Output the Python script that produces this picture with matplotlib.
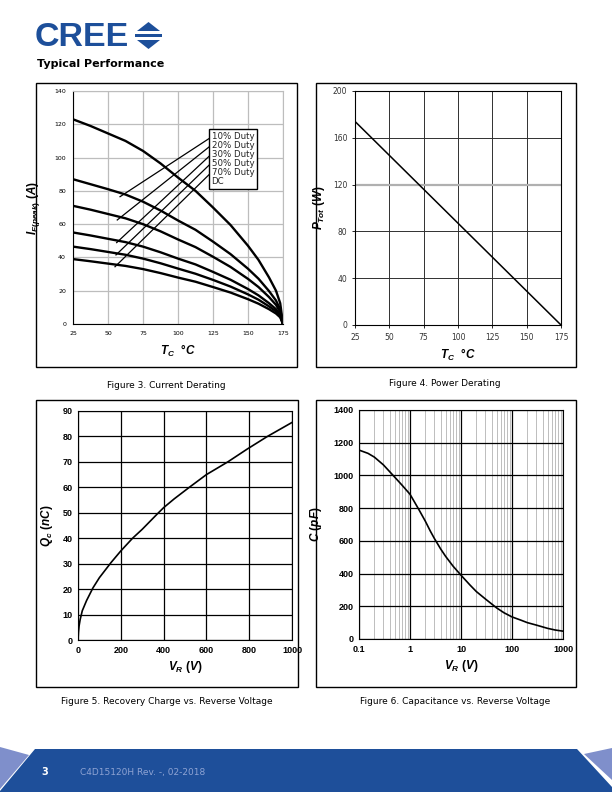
import matplotlib.pyplot as plt
from matplotlib.patches import Rectangle, Polygon

plt.rcParams['font.family'] = ['DejaVu Sans']
plt.rcParams['mathtext.fontset'] = 'custom'
plt.rcParams['mathtext.it'] = 'Liberation Sans:italic:bold'
plt.rcParams['mathtext.rm'] = 'Liberation Sans:bold'
plt.rcParams['mathtext.bf'] = 'Liberation Sans:bold'

W, H = 612, 792

# Figure 3 - current derating
tc = [25, 37.5, 50, 62.5, 75, 87.5, 100, 112.5, 125, 137.5, 150, 157.5, 165, 170, 173, 175]
i_10 = [123, 119, 114.5, 110, 104, 96.5, 88, 80, 70, 59.5, 47, 38.5, 28, 20, 12.5, 0]
i_20 = [87, 84, 81, 77.8, 73.5, 68.2, 62.2, 56.6, 49.5, 42, 33.2, 27.2, 19.8, 14.1, 8.8, 0]
i_30 = [71, 68.7, 66.1, 63.5, 60, 55.7, 50.8, 46.2, 40.4, 34.3, 27.1, 22.2, 16.2, 11.5, 7.2, 0]
i_50 = [55, 53.2, 51.2, 49.2, 46.5, 43.1, 39.3, 35.8, 31.3, 26.6, 21, 17.2, 12.5, 8.9, 5.6, 0]
i_70 = [46.5, 45, 43.3, 41.6, 39.3, 36.5, 33.3, 30.2, 26.5, 22.5, 17.8, 14.6, 10.6, 7.6, 4.7, 0]
i_dc = [39, 37.7, 36.3, 34.9, 33, 30.6, 27.9, 25.4, 22.2, 18.9, 14.9, 12.2, 8.9, 6.3, 4, 0]
duty_labels = ['10% Duty', '20% Duty', '30% Duty', '50% Duty', '70% Duty', 'DC']
leader_start_y = [111.6, 106.6, 101, 95.7, 90]
leader_end_x = [58.6, 56.6, 56.2, 55.7, 55]
leader_end_y = [76.5, 62.5, 48.9, 41.5, 34.4]

# Figure 4 - power derating
tc_p = [25, 175]
p_tot = [174, 0]

# Figure 5 - recovery charge
vr_q = [0, 2, 5, 10, 20, 40, 70, 100, 155, 200, 255, 300, 370, 400, 450, 520, 600, 700, 790, 885, 1000]
qc = [0, 3, 5.5, 8, 11.5, 15.5, 20.5, 24.5, 30.5, 35, 40, 43.5, 49.5, 52, 55.5, 60, 65, 70, 75, 80, 85.5]

# Figure 6 - capacitance
vr_c = [0.1, 0.15, 0.2, 0.3, 0.5, 0.7, 1, 1.5, 2, 2.5, 3, 4, 5, 7, 10, 15, 20, 30, 50, 70, 100,
        150, 200, 300, 500, 700, 1000]
cap = [1155, 1135, 1112, 1065, 990, 940, 885, 790, 720, 660, 615, 550, 505, 445, 390, 330, 290,
       245, 190, 160, 135, 115, 100, 85, 65, 55, 48]

fig = plt.figure(figsize=(W / 100, H / 100), dpi=100)


def px_axes(left, top, right, bottom):
    return fig.add_axes([left / W, 1 - bottom / H, (right - left) / W, (bottom - top) / H])


def frame(left, top, right, bottom):
    fig.patches.append(Rectangle((left / W, 1 - bottom / H), (right - left) / W, (bottom - top) / H,
                                 transform=fig.transFigure, fill=False, edgecolor='black', lw=1.0))


def ftext(x, y, s, **kw):
    fig.text(x / W, 1 - y / H, s, **kw)


# header
blue = '#1d4f9a'
ftext(35, 37, 'CREE', fontsize=24.5, fontweight='bold', color=blue, family='Liberation Sans',
      va='center', ha='left')
for pts in ([(137, 31), (160, 31), (148.5, 22)], [(137, 40), (160, 40), (148.5, 49)],
            [(135, 34), (162, 34), (162, 37), (135, 37)]):
    fig.patches.append(Polygon([(x / W, 1 - y / H) for x, y in pts], closed=True,
                               transform=fig.transFigure, facecolor=blue, edgecolor='none'))
ftext(37, 64, 'Typical Performance', fontsize=8, fontweight='bold', va='center')

# frames
frame(36, 83, 297, 367)
frame(316, 83, 576, 367)
frame(36, 400, 298, 687)
frame(316, 400, 576, 687)

# ---- Figure 3
ax1 = px_axes(73, 91, 283, 324)
for ys in [i_10, i_20, i_30, i_50, i_70, i_dc]:
    ax1.plot(tc, ys, color='black', lw=1.7, solid_joinstyle='round')
for sy, ex, ey in zip(leader_start_y, leader_end_x, leader_end_y):
    ax1.plot([122.5, ex], [sy, ey], color='black', lw=0.9)
ax1.set_xlim(25, 175)
ax1.set_ylim(0, 140)
ax1.set_xticks(range(25, 176, 25))
ax1.set_yticks(range(0, 141, 20))
ax1.grid(True, color='#bdbdbd', lw=0.9)
ax1.tick_params(length=0, labelsize=4.5, pad=5)
for s in ['top', 'right']:
    ax1.spines[s].set_color('#bdbdbd')
ax1.text(0.66, 0.825, '\n'.join(duty_labels), transform=ax1.transAxes, fontsize=6.2,
         va='top', ha='left', linespacing=1.0, color='#222222',
         bbox=dict(boxstyle='square,pad=0.35', facecolor='white', edgecolor='black', lw=1))
ax1.set_xlabel(r'$T_C\ \ \degree C$', fontsize=8.5, labelpad=5)
ax1.set_ylabel(r'$I_{F(peak)}\ (A)$', fontsize=8.5, labelpad=9)

# ---- Figure 4
ax2 = px_axes(355, 91, 561, 325)
ax2.plot(tc_p, p_tot, color='black', lw=1.1)
ax2.set_xlim(25, 175)
ax2.set_ylim(0, 200)
ax2.set_xticks(range(25, 176, 25))
ax2.set_yticks(range(0, 201, 40))
ax2.grid(True, color='#303030', lw=0.7)
ax2.tick_params(length=2, labelsize=5.5, labelcolor='#333333', width=0.6)
ygl = ax2.get_ygridlines()
ygl[3].set_color('#b0b0b0')
ygl[3].set_linewidth(1.6)
ax2.set_xlabel(r'$T_C\ \ \degree C$', fontsize=8.5, labelpad=4)
ax2.set_ylabel(r'$P_{Tot}\ (W)$', fontsize=8.5, labelpad=4)

# ---- Figure 5
ax3 = px_axes(78, 411, 292, 640)
ax3.plot(vr_q, qc, color='black', lw=1.2)
ax3.set_xlim(0, 1000)
ax3.set_ylim(0, 90)
ax3.set_xticks(range(0, 1001, 200))
ax3.set_yticks(range(0, 91, 10))
ax3.grid(True, color='black', lw=0.9)
ax3.tick_params(length=0, labelsize=6.5, pad=4)
for lab in ax3.get_xticklabels() + ax3.get_yticklabels():
    lab.set_fontweight('bold')
    lab.set_family('Liberation Sans')
ax3.set_xlabel(r'$V_R\ (V)$', fontsize=8.5, labelpad=3)
ax3.set_ylabel(r'$Q_c\ (nC)$', fontsize=8.5, labelpad=5)

# ---- Figure 6
ax4 = px_axes(359, 410, 563, 639)
ax4.plot(vr_c, cap, color='black', lw=1.2)
ax4.set_xscale('log')
ax4.set_xlim(0.1, 1000)
ax4.set_ylim(0, 1400)
ax4.set_xticks([0.1, 1, 10, 100, 1000])
ax4.set_xticklabels(['0.1', '1', '10', '100', '1000'])
ax4.set_yticks(range(0, 1401, 200))
ax4.grid(True, which='major', color='black', lw=0.9)
ax4.grid(True, which='minor', axis='x', color='#bdbdbd', lw=0.7)
ax4.tick_params(which='both', length=0, labelsize=6.5, pad=4)
for lab in ax4.get_xticklabels() + ax4.get_yticklabels():
    lab.set_fontweight('bold')
    lab.set_family('Liberation Sans')
ax4.set_xlabel(r'$V_R\ (V)$', fontsize=8.5, labelpad=3)
ax4.set_ylabel(r'$C\ (pF)$', fontsize=8.5, labelpad=7)

for ax in (ax1, ax2, ax3, ax4):
    ax.set_axisbelow(True)

# captions
ftext(166, 385, 'Figure 3. Current Derating', fontsize=6.5, ha='center', va='center')
ftext(445, 384, 'Figure 4. Power Derating', fontsize=6.5, ha='center', va='center')
ftext(167, 701, 'Figure 5. Recovery Charge vs. Reverse Voltage', fontsize=6.5, ha='center', va='center')
ftext(455, 701, 'Figure 6. Capacitance vs. Reverse Voltage', fontsize=6.5, ha='center', va='center')

# footer
light = '#7f8fcb'
for pts, col in (([(35, 749), (577, 749), (612, 787), (612, 792), (0, 792), (0, 791)], '#1e4f9a'),
                 ([(0, 747), (29, 755), (0, 789)], light),
                 ([(584, 754), (612, 748), (612, 780)], light)):
    fig.patches.append(Polygon([(x / W, 1 - y / H) for x, y in pts], closed=True,
                               transform=fig.transFigure, facecolor=col, edgecolor='none'))
ftext(41, 772, '3', fontsize=7, fontweight='bold', color='white', va='center')
ftext(80, 772, 'C4D15120H Rev. -, 02-2018', fontsize=6.5, color='#8ea3d3', va='center')

fig.savefig('out.png', dpi=100)
